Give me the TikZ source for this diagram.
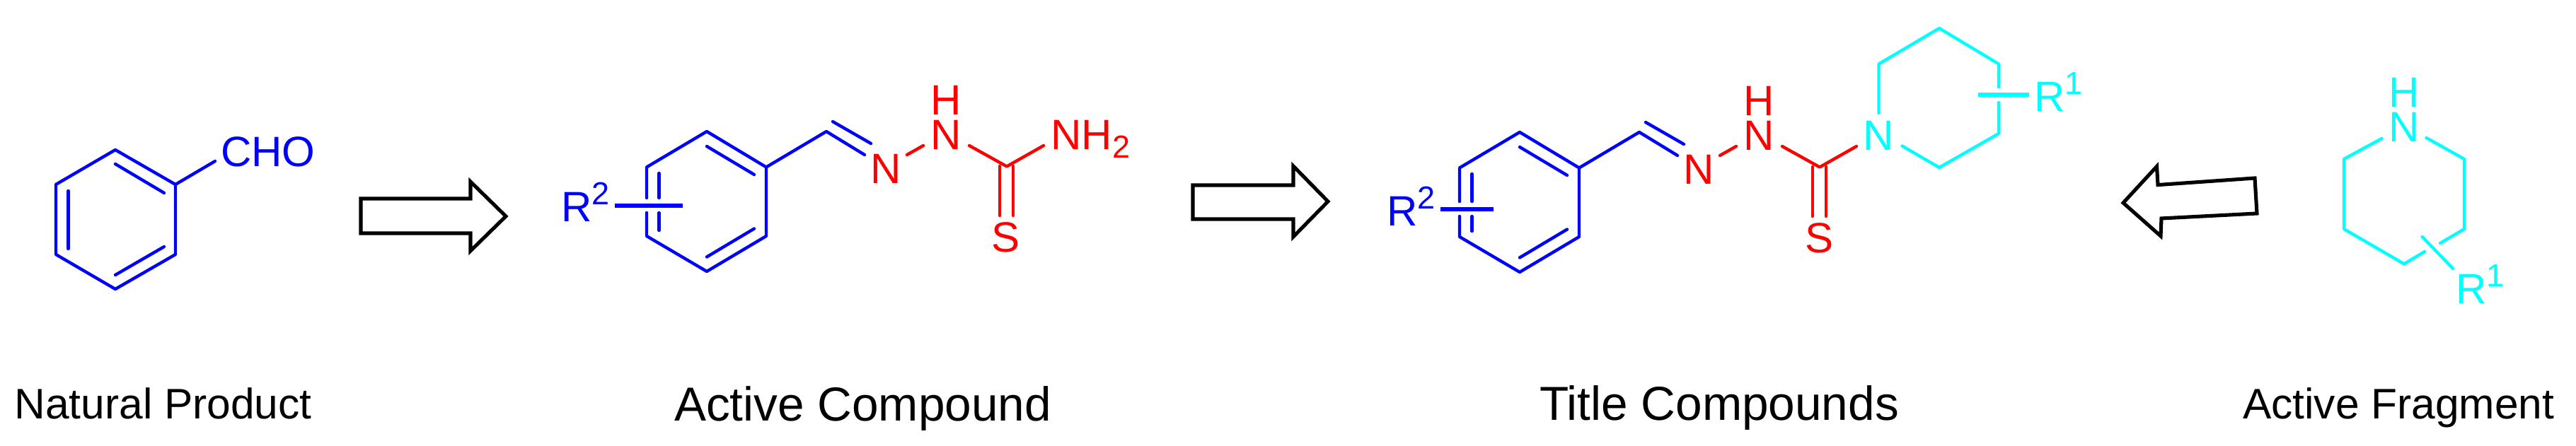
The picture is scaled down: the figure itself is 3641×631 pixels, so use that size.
\documentclass[tikz,border=0pt]{standalone}
\usepackage{fontspec}
\setmainfont{Liberation Sans}
\definecolor{ringblue}{RGB}{0,0,255}
\definecolor{linkred}{RGB}{255,0,0}
\definecolor{fragcyan}{RGB}{0,255,255}
\newcommand{\supnum}[1]{\raisebox{0.40em}{\fontsize{12.8pt}{14pt}\selectfont #1}}
\newcommand{\subnum}[1]{\raisebox{-0.19em}{\fontsize{12.8pt}{14pt}\selectfont #1}}
\tikzset{
  bond/.style={line width=1.25pt,line cap=round,line join=round},
  crossbond/.style={line width=1.7pt},
  atom/.style={inner sep=0pt,outer sep=0pt,font=\fontsize{17.07pt}{20pt}\selectfont,anchor=base},
  stackatom/.style={atom,anchor=south,align=center,font=\fontsize{17.07pt}{14.2pt}\selectfont},
  rlabel/.style={atom,anchor=base west},
  caption/.style={inner sep=0pt,outer sep=0pt,anchor=base west,font=\fontsize{17.2pt}{20pt}\selectfont},
  bigcaption/.style={caption,font=\fontsize{19.2pt}{22pt}\selectfont},
  blockarrow/.style={draw=black,line width=1.45pt,line join=miter},
}
\begin{document}
\begin{tikzpicture}[x=0.01cm,y=-0.01cm]
  \useasboundingbox (0,0) rectangle (3641,631);

  \coordinate (np1) at (163,212);
  \coordinate (np2) at (248,261);
  \coordinate (np3) at (248,360);
  \coordinate (np4) at (163,409);
  \coordinate (np5) at (79,360);
  \coordinate (np6) at (79,261);
  \coordinate (npa) at (163,232);
  \coordinate (npb) at (232,273);
  \coordinate (npc) at (232,349);
  \coordinate (npd) at (163,389);
  \coordinate (npe) at (96.5,352);
  \coordinate (npf) at (96.5,270);
  \coordinate (npg) at (304,228);
  \draw[bond,ringblue] (np1) -- (np2) -- (np3) -- (np4) -- (np5) -- (np6) -- cycle;
  \draw[bond,ringblue] (npa) -- (npb);
  \draw[bond,ringblue] (npc) -- (npd);
  \draw[bond,ringblue] (npe) -- (npf);
  \draw[bond,ringblue] (np2) -- (npg);
  \node[rlabel,text=ringblue] (cho) at (312,236) {CHO};
  \node[caption] (natural) at (20.5,593) {Natural Product};

  \foreach \nm/\dx/\dy/\xa/\xb/\yc/\rx/\ry in {ac/0/0/869/965/291/793/314,tc/1149/1/887/962/295/811/319} {
    \begin{scope}[shift={(\dx,\dy)}]
      \coordinate (\nm-1) at (999,186);
      \coordinate (\nm-2) at (1083,236.5);
      \coordinate (\nm-3) at (1083,334);
      \coordinate (\nm-4) at (999,384);
      \coordinate (\nm-5) at (914,334);
      \coordinate (\nm-6) at (914,236.5);
      \coordinate (\nm-a) at (999,207);
      \coordinate (\nm-b) at (1066,247);
      \coordinate (\nm-c) at (1066,323.5);
      \coordinate (\nm-d) at (999,363.5);
      \coordinate (\nm-e) at (914,\yc-11);
      \coordinate (\nm-f) at (914,\yc+10);
      \coordinate (\nm-g) at (931.5,245);
      \coordinate (\nm-h) at (931.5,\yc-11);
      \coordinate (\nm-i) at (931.5,\yc+10);
      \coordinate (\nm-j) at (931.5,326);
      \coordinate (\nm-k) at (\xa,\yc);
      \coordinate (\nm-l) at (\xb,\yc);
      \coordinate (\nm-ch) at (1168,186);
      \coordinate (\nm-m) at (1222,219);
      \coordinate (\nm-n) at (1177,172);
      \coordinate (\nm-o) at (1231,203);
      \coordinate (\nm-p) at (1282,219);
      \coordinate (\nm-q) at (1305,206);
      \coordinate (\nm-s) at (1370,206);
      \coordinate (\nm-cs) at (1423,235.5);
      \coordinate (\nm-t) at (1475,206);
      \coordinate (\nm-u) at (1413,235);
      \coordinate (\nm-v) at (1413,305);
      \coordinate (\nm-w) at (1432,235);
      \coordinate (\nm-x) at (1432,305);

      \draw[bond,ringblue] (\nm-e) -- (\nm-6) -- (\nm-1) -- (\nm-2) -- (\nm-3) -- (\nm-4) -- (\nm-5) -- (\nm-f);
      \draw[bond,ringblue] (\nm-a) -- (\nm-b);
      \draw[bond,ringblue] (\nm-c) -- (\nm-d);
      \draw[bond,ringblue] (\nm-g) -- (\nm-h);
      \draw[bond,ringblue] (\nm-i) -- (\nm-j);
      \draw[crossbond,ringblue] (\nm-k) -- (\nm-l);
      \draw[bond,ringblue] (\nm-2) -- (\nm-ch) -- (\nm-m);
      \draw[bond,ringblue] (\nm-n) -- (\nm-o);
      \draw[bond,linkred] (\nm-p) -- (\nm-q);
      \draw[bond,linkred] (\nm-s) -- (\nm-cs) -- (\nm-t);
      \draw[bond,linkred] (\nm-u) -- (\nm-v);
      \draw[bond,linkred] (\nm-w) -- (\nm-x);

      \node[rlabel,text=ringblue] (\nm-r) at (\rx,\ry) {R\supnum{2}};
      \node[atom,text=linkred] (\nm-nb) at (1252.5,260) {N};
      \node[stackatom,text=linkred] (\nm-nh) at (1337,212) {H\\N};
      \node[atom,text=linkred] (\nm-ss) at (1422,357) {S};
    \end{scope}
  }
  \node[rlabel,text=linkred] (nhtwo) at (1485.5,212) {NH\subnum{2}};
  \node[bigcaption] (active) at (953,596) {Active Compound};
  \node[bigcaption] (title) at (2176,595) {Title Compounds};

  \coordinate (pp1) at (2655.5,160);
  \coordinate (pp2) at (2655.5,90.5);
  \coordinate (pp3) at (2741,40);
  \coordinate (pp4) at (2825,90.5);
  \coordinate (pp5) at (2825,123);
  \coordinate (pp6) at (2825,145);
  \coordinate (pp7) at (2825,189);
  \coordinate (pp8) at (2741,237);
  \coordinate (pp9) at (2688.5,206.5);
  \coordinate (ppa) at (2795.5,134);
  \coordinate (ppb) at (2868,134);
  \draw[bond,fragcyan] (pp1) -- (pp2) -- (pp3) -- (pp4) -- (pp5);
  \draw[bond,fragcyan] (pp6) -- (pp7) -- (pp8) -- (pp9);
  \draw[crossbond,fragcyan] (ppa) -- (ppb);
  \node[atom,text=fragcyan] (ppn) at (2655.5,213) {N};
  \node[rlabel,text=fragcyan] (ppr) at (2875.5,158) {R\supnum{1}};

  \coordinate (fr1) at (3366.4,196);
  \coordinate (fr2) at (3313,225);
  \coordinate (fr3) at (3313,324);
  \coordinate (fr4) at (3398,373.4);
  \coordinate (fr5) at (3427,356);
  \coordinate (fr6) at (3449,344);
  \coordinate (fr7) at (3483,324);
  \coordinate (fr8) at (3483,225);
  \coordinate (fr9) at (3429.5,195);
  \coordinate (fra) at (3423.7,335);
  \coordinate (frb) at (3467,380);
  \draw[bond,fragcyan] (fr1) -- (fr2) -- (fr3) -- (fr4) -- (fr5);
  \draw[bond,fragcyan] (fr6) -- (fr7) -- (fr8) -- (fr9);
  \draw[bond,fragcyan] (fra) -- (frb);
  \node[stackatom,text=fragcyan] (frn) at (3398,201) {H\\N};
  \node[rlabel,text=fragcyan] (frr) at (3471.5,430) {R\supnum{1}};
  \node[caption] (fragment) at (3170,593) {Active Fragment};

  \draw[blockarrow] (510,281) -- (665,281) -- (665,257) -- (715,306) -- (665,355) -- (665,330) -- (510,330) -- cycle;
  \draw[blockarrow] (1686,262) -- (1828,262) -- (1828,235) -- (1877,285) -- (1828,335) -- (1828,310) -- (1686,310) -- cycle;
  \draw[blockarrow] (3187,252) -- (3190,302) -- (3055,309) -- (3054,334) -- (3001,287) -- (3048.5,235.4) -- (3050,261.6) -- cycle;
\end{tikzpicture}
\end{document}
